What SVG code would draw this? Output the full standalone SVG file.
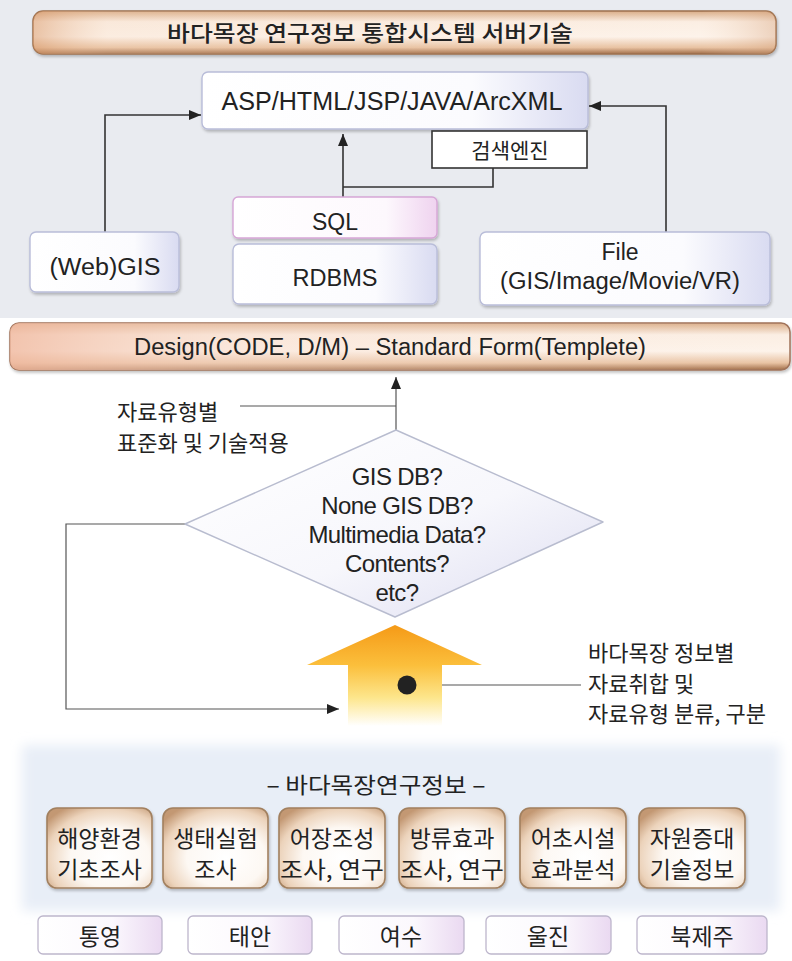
<svg xmlns="http://www.w3.org/2000/svg" width="792" height="961" viewBox="0 0 792 961">
  <defs>
    <style>
      .lat { font-family: "Liberation Sans", "Noto Sans CJK KR", sans-serif; fill: #222; }
      .kor { font-family: "Noto Sans CJK KR", "Liberation Sans", sans-serif; fill: #222; }
      .wire { fill: none; stroke: #333; stroke-width: 1.6; }
      .thin { fill: none; stroke: #555; stroke-width: 1.2; }
      .lav { fill: url(#gLav); stroke: #b9bdd9; stroke-width: 1.4; filter: url(#shadow); }
      .pink { fill: url(#gPink); stroke: #d6a6d6; stroke-width: 1.4; filter: url(#shadow); }
      .loc { fill: url(#gLoc); stroke: #bdb6cc; stroke-width: 1.3; }
      .tan { fill: url(#gTan); stroke: #a2805f; stroke-width: 1.6; filter: url(#shadow); }
    </style>
    <linearGradient id="gLav" x1="0" y1="0" x2="1" y2="0">
      <stop offset="0" stop-color="#ffffff"/>
      <stop offset="0.7" stop-color="#fbfbfe"/>
      <stop offset="1" stop-color="#d9dbf1"/>
    </linearGradient>
    <linearGradient id="gPink" x1="0" y1="0" x2="1" y2="0">
      <stop offset="0" stop-color="#ffffff"/>
      <stop offset="0.75" stop-color="#fdf8fd"/>
      <stop offset="1" stop-color="#efd3ef"/>
    </linearGradient>
    <linearGradient id="gLoc" x1="0" y1="0" x2="1" y2="0">
      <stop offset="0" stop-color="#ffffff"/>
      <stop offset="0.6" stop-color="#fbf8fd"/>
      <stop offset="1" stop-color="#ead9f1"/>
    </linearGradient>
    <radialGradient id="gTan" cx="0.6" cy="0.62" r="0.75">
      <stop offset="0" stop-color="#ffffff"/>
      <stop offset="0.5" stop-color="#fdf8f3"/>
      <stop offset="0.8" stop-color="#ecd3bb"/>
      <stop offset="1" stop-color="#c39873"/>
    </radialGradient>
    <linearGradient id="gTitle" x1="0" y1="0" x2="0" y2="1">
      <stop offset="0" stop-color="#d9ac86"/>
      <stop offset="0.25" stop-color="#fbeee3"/>
      <stop offset="0.6" stop-color="#fdf3ea"/>
      <stop offset="0.85" stop-color="#e8c2a2"/>
      <stop offset="1" stop-color="#a06c46"/>
    </linearGradient>
    <linearGradient id="gTitleH" x1="0" y1="0" x2="1" y2="0">
      <stop offset="0" stop-color="#d99a6c" stop-opacity="0.55"/>
      <stop offset="0.1" stop-color="#f3d2b8" stop-opacity="0.2"/>
      <stop offset="0.9" stop-color="#f3d2b8" stop-opacity="0"/>
      <stop offset="1" stop-color="#d4a07a" stop-opacity="0.4"/>
    </linearGradient>
    <linearGradient id="gDesignH" x1="0" y1="0" x2="1" y2="0">
      <stop offset="0" stop-color="#f0b9a0" stop-opacity="0.8"/>
      <stop offset="0.3" stop-color="#f7d9c9" stop-opacity="0.4"/>
      <stop offset="1" stop-color="#fbefe6" stop-opacity="0"/>
    </linearGradient>
    <linearGradient id="gDiamond" x1="0" y1="0" x2="1" y2="1">
      <stop offset="0" stop-color="#ffffff"/>
      <stop offset="0.55" stop-color="#f7f7fc"/>
      <stop offset="1" stop-color="#dcdcf0"/>
    </linearGradient>
    <linearGradient id="gArrow" x1="0" y1="0" x2="0" y2="1">
      <stop offset="0" stop-color="#f59a17"/>
      <stop offset="0.4" stop-color="#fbbf3c"/>
      <stop offset="0.72" stop-color="#fde68c"/>
      <stop offset="1" stop-color="#ffffff"/>
    </linearGradient>
    <filter id="shadow" x="-10%" y="-10%" width="120%" height="130%">
      <feGaussianBlur in="SourceAlpha" stdDeviation="1.5"/>
      <feOffset dx="1" dy="2" result="b"/>
      <feComponentTransfer><feFuncA type="linear" slope="0.25"/></feComponentTransfer>
      <feMerge><feMergeNode/><feMergeNode in="SourceGraphic"/></feMerge>
    </filter>
    <filter id="soft" x="-5%" y="-20%" width="110%" height="140%">
      <feGaussianBlur stdDeviation="6"/>
    </filter>
    <marker id="ah" viewBox="0 0 12 10" refX="12" refY="5" markerWidth="12" markerHeight="10" markerUnits="userSpaceOnUse" orient="auto">
      <path d="M0,0 L12,5 L0,10 Z" fill="#222"/>
    </marker>
  </defs>

  <!-- backgrounds -->
  <rect x="0" y="0" width="792" height="961" fill="#ffffff"/>
  <rect x="0" y="0" width="792" height="318" fill="#e9ebf0"/>
  <rect x="22" y="745" width="758" height="166" fill="#e8eef7" filter="url(#soft)"/>

  <!-- title banner -->
  <g id="title">
    <rect x="33" y="11" width="743" height="43" rx="10" fill="url(#gTitle)" stroke="#9c6f4d" stroke-width="1.5" filter="url(#shadow)"/>
    <rect x="33" y="11" width="743" height="43" rx="10" fill="url(#gTitleH)"/>
    <text class="kor" x="370" y="41" text-anchor="middle" font-size="22" font-weight="500" textLength="406" lengthAdjust="spacingAndGlyphs">바다목장 연구정보 통합시스템 서버기술</text>
  </g>

  <!-- connectors -->
  <g id="connectors">
    <polyline class="wire" points="105,232 105,115 201,115" marker-end="url(#ah)"/>
    <polyline class="wire" points="666,232 666,106 589,106" marker-end="url(#ah)"/>
    <polyline class="wire" points="343,197 343,134" marker-end="url(#ah)"/>
    <polyline class="wire" points="343,187 493,187 493,168"/>
    <polyline class="thin" points="396,430 396,377" marker-end="url(#ah)"/>
    <line class="thin" x1="240" y1="406" x2="396" y2="406"/>
    <polyline class="thin" points="185,524 66,524 66,709 339,709" marker-end="url(#ah)"/>
    <line class="thin" x1="407" y1="685" x2="581" y2="685"/>
  </g>

  <g id="server">
    <rect x="202" y="72" width="386" height="57" rx="6" class="lav"/>
    <text class="lat" x="392" y="110" text-anchor="middle" font-size="25" textLength="341" lengthAdjust="spacingAndGlyphs">ASP/HTML/JSP/JAVA/ArcXML</text>
  </g>

  <g id="search">
    <rect x="432" y="131" width="155" height="37" fill="#ffffff" stroke="#333" stroke-width="1.6"/>
    <text class="kor" x="510" y="158" text-anchor="middle" font-size="21">검색엔진</text>
  </g>

  <g id="webgis">
    <rect x="30" y="232" width="149" height="60" rx="6" class="lav"/>
    <text class="lat" x="105" y="275" text-anchor="middle" font-size="23" textLength="111" lengthAdjust="spacingAndGlyphs">(Web)GIS</text>
  </g>

  <g id="sql">
    <rect x="233" y="197" width="204" height="41" rx="5" class="pink"/>
    <text class="lat" x="335" y="230" text-anchor="middle" font-size="23">SQL</text>
  </g>

  <g id="rdbms">
    <rect x="233" y="244" width="204" height="60" rx="6" class="lav"/>
    <text class="lat" x="335" y="286" text-anchor="middle" font-size="23" textLength="85" lengthAdjust="spacingAndGlyphs">RDBMS</text>
  </g>

  <g id="file">
    <rect x="480" y="232" width="290" height="73" rx="6" class="lav"/>
    <text class="lat" x="620" y="260" text-anchor="middle" font-size="23">File</text>
    <text class="lat" x="620" y="289" text-anchor="middle" font-size="23" textLength="240" lengthAdjust="spacingAndGlyphs">(GIS/Image/Movie/VR)</text>
  </g>

  <g id="design">
    <rect x="10" y="323" width="780" height="47" rx="9" fill="url(#gTitle)" stroke="#a0735a" stroke-width="1.5" filter="url(#shadow)"/>
    <rect x="10" y="323" width="780" height="47" rx="9" fill="url(#gDesignH)"/>
    <text class="lat" x="390" y="355" text-anchor="middle" font-size="23" textLength="512" lengthAdjust="spacingAndGlyphs">Design(CODE, D/M) – Standard Form(Templete)</text>
  </g>

  <g id="note-standard">
    <text class="kor" x="117" y="420" font-size="22">자료유형별</text>
    <text class="kor" x="117" y="451" font-size="22">표준화 및 기술적용</text>
  </g>

  <g id="decision">
    <polygon points="396,430 603,522 395,617 185,524" fill="url(#gDiamond)" stroke="#b8bccf" stroke-width="1.4" stroke-linejoin="round"/>
    <g class="lat" font-size="24" text-anchor="middle" letter-spacing="-0.6">
      <text x="397" y="485">GIS DB?</text>
      <text x="397" y="514">None GIS DB?</text>
      <text x="397" y="543">Multimedia Data?</text>
      <text x="397" y="572">Contents?</text>
      <text x="397" y="601">etc?</text>
    </g>
  </g>

  <g id="collect-arrow">
    <polygon points="395,625 482,665 442,665 442,726 348,726 348,665 307,665" fill="url(#gArrow)"/>
    <circle cx="407" cy="685" r="9.5" fill="#222"/>
  </g>

  <g id="note-collect">
    <text class="kor" x="588" y="661" font-size="22">바다목장 정보별</text>
    <text class="kor" x="588" y="692" font-size="22">자료취합 및</text>
    <text class="kor" x="588" y="722" font-size="22">자료유형 분류, 구분</text>
  </g>

  <g id="research-title">
    <text class="kor" x="376" y="793" text-anchor="middle" font-size="22" textLength="219" lengthAdjust="spacingAndGlyphs">– 바다목장연구정보 –</text>
  </g>

  <g id="research-1">
    <rect x="47" y="808" width="105" height="80" rx="10" class="tan"/>
    <text class="kor" x="99.5" y="847" text-anchor="middle" font-size="23">해양환경</text>
    <text class="kor" x="99.5" y="878" text-anchor="middle" font-size="23">기초조사</text>
  </g>
  <g id="research-2">
    <rect x="163" y="808" width="105" height="80" rx="10" class="tan"/>
    <text class="kor" x="215.5" y="847" text-anchor="middle" font-size="23">생태실험</text>
    <text class="kor" x="215.5" y="878" text-anchor="middle" font-size="23">조사</text>
  </g>
  <g id="research-3">
    <rect x="279" y="808" width="106" height="80" rx="10" class="tan"/>
    <text class="kor" x="332" y="847" text-anchor="middle" font-size="23">어장조성</text>
    <text class="kor" x="332" y="878" text-anchor="middle" font-size="23" textLength="104" lengthAdjust="spacingAndGlyphs">조사, 연구</text>
  </g>
  <g id="research-4">
    <rect x="399" y="808" width="106" height="80" rx="10" class="tan"/>
    <text class="kor" x="452" y="847" text-anchor="middle" font-size="23">방류효과</text>
    <text class="kor" x="452" y="878" text-anchor="middle" font-size="23" textLength="104" lengthAdjust="spacingAndGlyphs">조사, 연구</text>
  </g>
  <g id="research-5">
    <rect x="520" y="808" width="106" height="80" rx="10" class="tan"/>
    <text class="kor" x="573" y="847" text-anchor="middle" font-size="23">어초시설</text>
    <text class="kor" x="573" y="878" text-anchor="middle" font-size="23">효과분석</text>
  </g>
  <g id="research-6">
    <rect x="639" y="808" width="106" height="80" rx="10" class="tan"/>
    <text class="kor" x="692" y="847" text-anchor="middle" font-size="23">자원증대</text>
    <text class="kor" x="692" y="878" text-anchor="middle" font-size="23">기술정보</text>
  </g>

  <g id="site-tongyeong">
    <rect x="38" y="916" width="124" height="38" rx="5" class="loc"/>
    <text class="kor" x="100" y="945" text-anchor="middle" font-size="23">통영</text>
  </g>
  <g id="site-taean">
    <rect x="188" y="916" width="124" height="38" rx="5" class="loc"/>
    <text class="kor" x="250" y="945" text-anchor="middle" font-size="23">태안</text>
  </g>
  <g id="site-yeosu">
    <rect x="339" y="916" width="125" height="38" rx="5" class="loc"/>
    <text class="kor" x="401" y="945" text-anchor="middle" font-size="23">여수</text>
  </g>
  <g id="site-uljin">
    <rect x="486" y="916" width="125" height="38" rx="5" class="loc"/>
    <text class="kor" x="548" y="945" text-anchor="middle" font-size="23">울진</text>
  </g>
  <g id="site-bukjeju">
    <rect x="637" y="916" width="130" height="38" rx="5" class="loc"/>
    <text class="kor" x="702" y="945" text-anchor="middle" font-size="23">북제주</text>
  </g>
</svg>
